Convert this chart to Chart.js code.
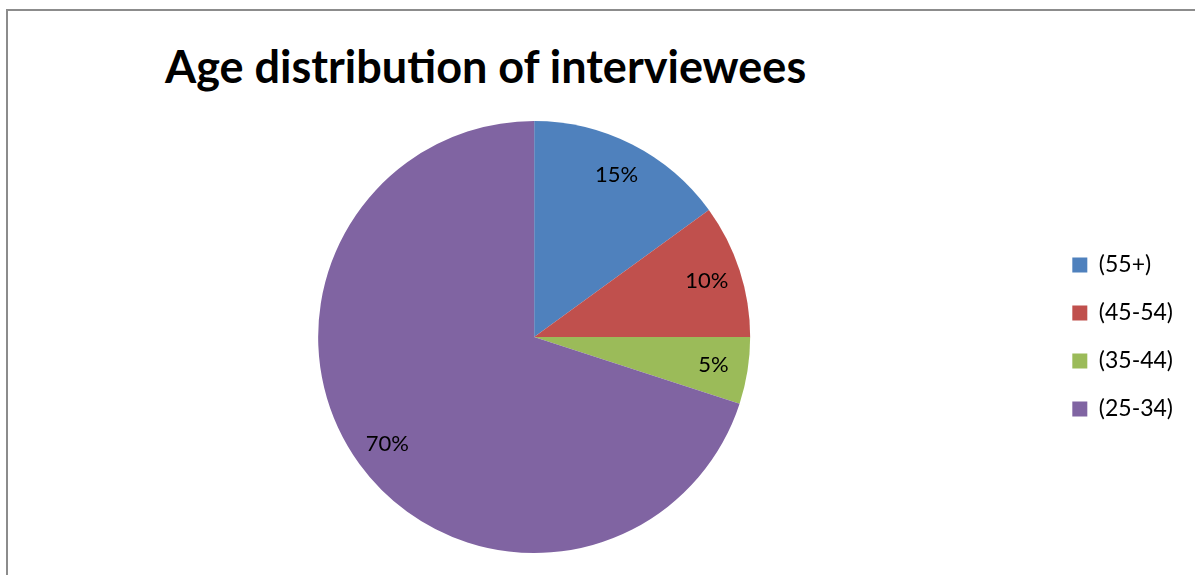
<!DOCTYPE html>
<html>
<head>
<meta charset="utf-8">
<script src="https://cdn.jsdelivr.net/npm/chart.js@4.4.1/dist/chart.umd.min.js"></script>
<style>
  html, body { margin: 0; padding: 0; background: #ffffff; }
  #wrap { position: relative; width: 1195px; height: 575px; overflow: hidden; }
  #frame { position: absolute; left: 6px; top: 9px; width: 1300px; height: 700px;
           border-left: 2px solid #8c8c8c; border-top: 2px solid #8c8c8c; box-sizing: border-box; }
  #title { position: absolute; left: 165px; top: 44px; font-family: Lato, "Open Sans", sans-serif;
           font-weight: 700; font-size: 45px; color: #000; white-space: nowrap; line-height: 1; }
  canvas { position: absolute; left: 0; top: 0; }
</style>
</head>
<body>
<div id="wrap">
  <div id="frame"></div>
  <div id="title">Age distribution of interviewees</div>
  <canvas id="c" width="1195" height="575"></canvas>
</div>
<script>
// Age groups and their share of interviewees (percent)
const ageGroups = ['(55+)', '(45-54)', '(35-44)', '(25-34)'];
const shares = [15, 10, 5, 70];
const sliceColors = ['#4F81BD', '#C0504D', '#9BBB59', '#8064A2'];

// Percentage labels placed inside each slice
const sliceLabels = {
  id: 'sliceLabels',
  afterDatasetsDraw(chart) {
    const ctx = chart.ctx;
    const meta = chart.getDatasetMeta(0);
    ctx.save();
    ctx.font = '22px Lato, "Open Sans", sans-serif';
    ctx.fillStyle = '#000000';
    ctx.textAlign = 'center';
    ctx.textBaseline = 'middle';
    meta.data.forEach((arc, i) => {
      const p = arc.getProps(['x', 'y', 'startAngle', 'endAngle', 'outerRadius'], true);
      const mid = (p.startAngle + p.endAngle) / 2;
      const r = p.outerRadius * 0.84;
      ctx.fillText(shares[i] + '%', p.x + Math.cos(mid) * r, p.y + Math.sin(mid) * r);
    });
    ctx.restore();
  }
};

Chart.defaults.font.family = 'Lato, "Open Sans", sans-serif';

new Chart(document.getElementById('c'), {
  type: 'pie',
  data: {
    labels: ageGroups,
    datasets: [{
      data: shares,
      backgroundColor: sliceColors,
      borderWidth: 0,
      hoverOffset: 0
    }]
  },
  options: {
    responsive: false,
    animation: false,
    events: [],
    layout: { padding: { left: 21, right: 12, top: 121, bottom: 22 } },
    plugins: {
      title: { display: false },
      tooltip: { enabled: false },
      legend: {
        position: 'right',
        labels: {
          boxWidth: 15,
          boxHeight: 15,
          padding: 25,
          color: '#000000',
          font: { size: 23 }
        }
      }
    }
  },
  plugins: [sliceLabels]
});
</script>
</body>
</html>
